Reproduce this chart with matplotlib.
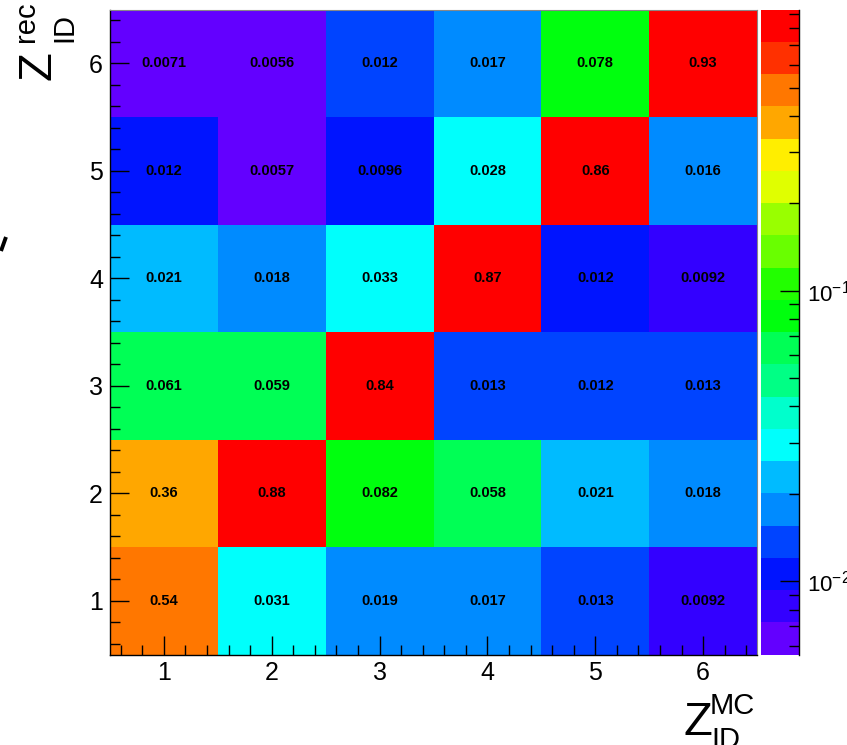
import colorsys
import numpy as np
import matplotlib
matplotlib.use("Agg")
import matplotlib.pyplot as plt
from matplotlib.colors import ListedColormap, BoundaryNorm
from matplotlib.ticker import MultipleLocator, LogLocator, NullFormatter, FixedLocator
from matplotlib.lines import Line2D

plt.rcParams['font.family'] = ['Liberation Sans', 'DejaVu Sans']
plt.rcParams['mathtext.fontset'] = 'custom'
plt.rcParams['mathtext.rm'] = 'Liberation Sans'
plt.rcParams['mathtext.it'] = 'Liberation Sans'

# ---- data ----
x_bins = [1, 2, 3, 4, 5, 6]          # Z_ID^MC
y_bins = [1, 2, 3, 4, 5, 6]          # Z_ID^rec
row_y1 = [0.54, 0.031, 0.019, 0.017, 0.013, 0.0092]
row_y2 = [0.36, 0.88, 0.082, 0.058, 0.021, 0.018]
row_y3 = [0.061, 0.059, 0.84, 0.013, 0.0122, 0.013]
row_y4 = [0.021, 0.018, 0.033, 0.87, 0.0118, 0.0092]
row_y5 = [0.0118, 0.0057, 0.0096, 0.028, 0.86, 0.016]
row_y6 = [0.0071, 0.0056, 0.0122, 0.017, 0.078, 0.93]
x_ticks = [1, 2, 3, 4, 5, 6]
y_ticks = [1, 2, 3, 4, 5, 6]
cbar_major = [0.01, 0.1]
cbar_labels = [r'$\mathregular{10^{-2}}$', r'$\mathregular{10^{-1}}$']

Z = np.array([row_y1, row_y2, row_y3, row_y4, row_y5, row_y6])

W, H = 847, 745
fig = plt.figure(figsize=(W / 100, H / 100), dpi=100)

def fx(px):
    return px / W

def fy(py):
    return 1 - py / H

# ROOT "pretty" rainbow palette, 20 contour levels
ncont = 20
colors = []
for k in range(ncont):
    p = int((k + 0.99) * 50 / ncont)
    hue = 280 - (p + 1) * 5.6
    colors.append(colorsys.hls_to_rgb(hue / 360.0, 0.5, 1.0))
cmap = ListedColormap(colors)
zmin, zmax = Z.min(), Z.max()
levels = np.logspace(np.log10(zmin), np.log10(zmax), ncont + 1)
norm = BoundaryNorm(levels, ncont)

# main axes
L, R, T, B = 110, 757, 9.5, 654.5
ax = fig.add_axes([fx(L), fy(B), fx(R - L), (B - T) / H])
xe = np.arange(len(x_bins) + 1) + 0.5
ye = np.arange(len(y_bins) + 1) + 0.5
ax.pcolormesh(xe, ye, Z, cmap=cmap, norm=norm, edgecolors='none', antialiased=False)
for j, yv in enumerate(y_bins):
    for i, xv in enumerate(x_bins):
        ax.text(xv, yv, '%.2g' % Z[j, i], ha='center', va='center',
                fontsize=10.5, fontweight='bold', color='black')
ax.set_xlim(0.5, 6.5)
ax.set_ylim(0.5, 6.5)
ax.xaxis.set_major_locator(FixedLocator(x_ticks))
ax.yaxis.set_major_locator(FixedLocator(y_ticks))
ax.xaxis.set_minor_locator(MultipleLocator(0.2))
ax.yaxis.set_minor_locator(MultipleLocator(0.2))
ax.tick_params(which='both', direction='in', top=False, right=False, width=1.0, color='black')
ax.tick_params(which='major', length=14, labelsize=18, pad=5)
ax.tick_params(which='minor', length=7)
for s in ['left', 'bottom']:
    ax.spines[s].set_color('black')
    ax.spines[s].set_linewidth(1.0)
for s in ['top', 'right']:
    ax.spines[s].set_color('#888888')
    ax.spines[s].set_linewidth(0.8)

# colour bar
cax = fig.add_axes([fx(761), fy(B), fx(799 - 761), (B - T) / H])
cax.set_yscale('log')
cax.pcolormesh([0, 1], levels, np.array(levels[:-1]).reshape(-1, 1),
               cmap=cmap, norm=norm, edgecolors='none', antialiased=False)
cax.set_ylim(zmin, zmax)
cax.set_xlim(0, 1)
cax.set_xticks([])
cax.yaxis.set_major_locator(FixedLocator(cbar_major))
cax.yaxis.set_minor_locator(LogLocator(base=10, subs=np.arange(2, 10)))
cax.yaxis.set_minor_formatter(NullFormatter())
cax.set_yticklabels(cbar_labels)
cax.yaxis.tick_right()
cax.tick_params(which='both', direction='in', left=False, right=True, width=1.0, color='black')
cax.tick_params(which='major', length=14, labelsize=16, pad=6)
cax.tick_params(which='minor', length=7)
for s in ['left', 'top', 'bottom']:
    cax.spines[s].set_visible(False)
cax.spines['right'].set_color('black')
cax.spines['right'].set_linewidth(1.0)

# axis titles
fig.text(fx(683), fy(735), 'Z', fontsize=34, ha='left', va='baseline')
fig.text(fx(710), fy(714), 'MC', fontsize=21, ha='left', va='baseline')
fig.text(fx(711), fy(748), 'ID', fontsize=21, ha='left', va='baseline')

fig.text(fx(50), fy(80), 'Z', fontsize=34, rotation=90, rotation_mode='anchor',
         ha='left', va='baseline')
fig.text(fx(34), fy(42), 'rec', fontsize=21, rotation=90, rotation_mode='anchor',
         ha='left', va='baseline')
fig.text(fx(72), fy(42), 'ID', fontsize=21, rotation=90, rotation_mode='anchor',
         ha='left', va='baseline')

# small stray stroke at the left edge
fig.add_artist(Line2D([fx(1), fx(6)], [fy(251), fy(237)], color='black', lw=2.8,
                      solid_capstyle='butt'))

fig.savefig('out.png', dpi=100)
